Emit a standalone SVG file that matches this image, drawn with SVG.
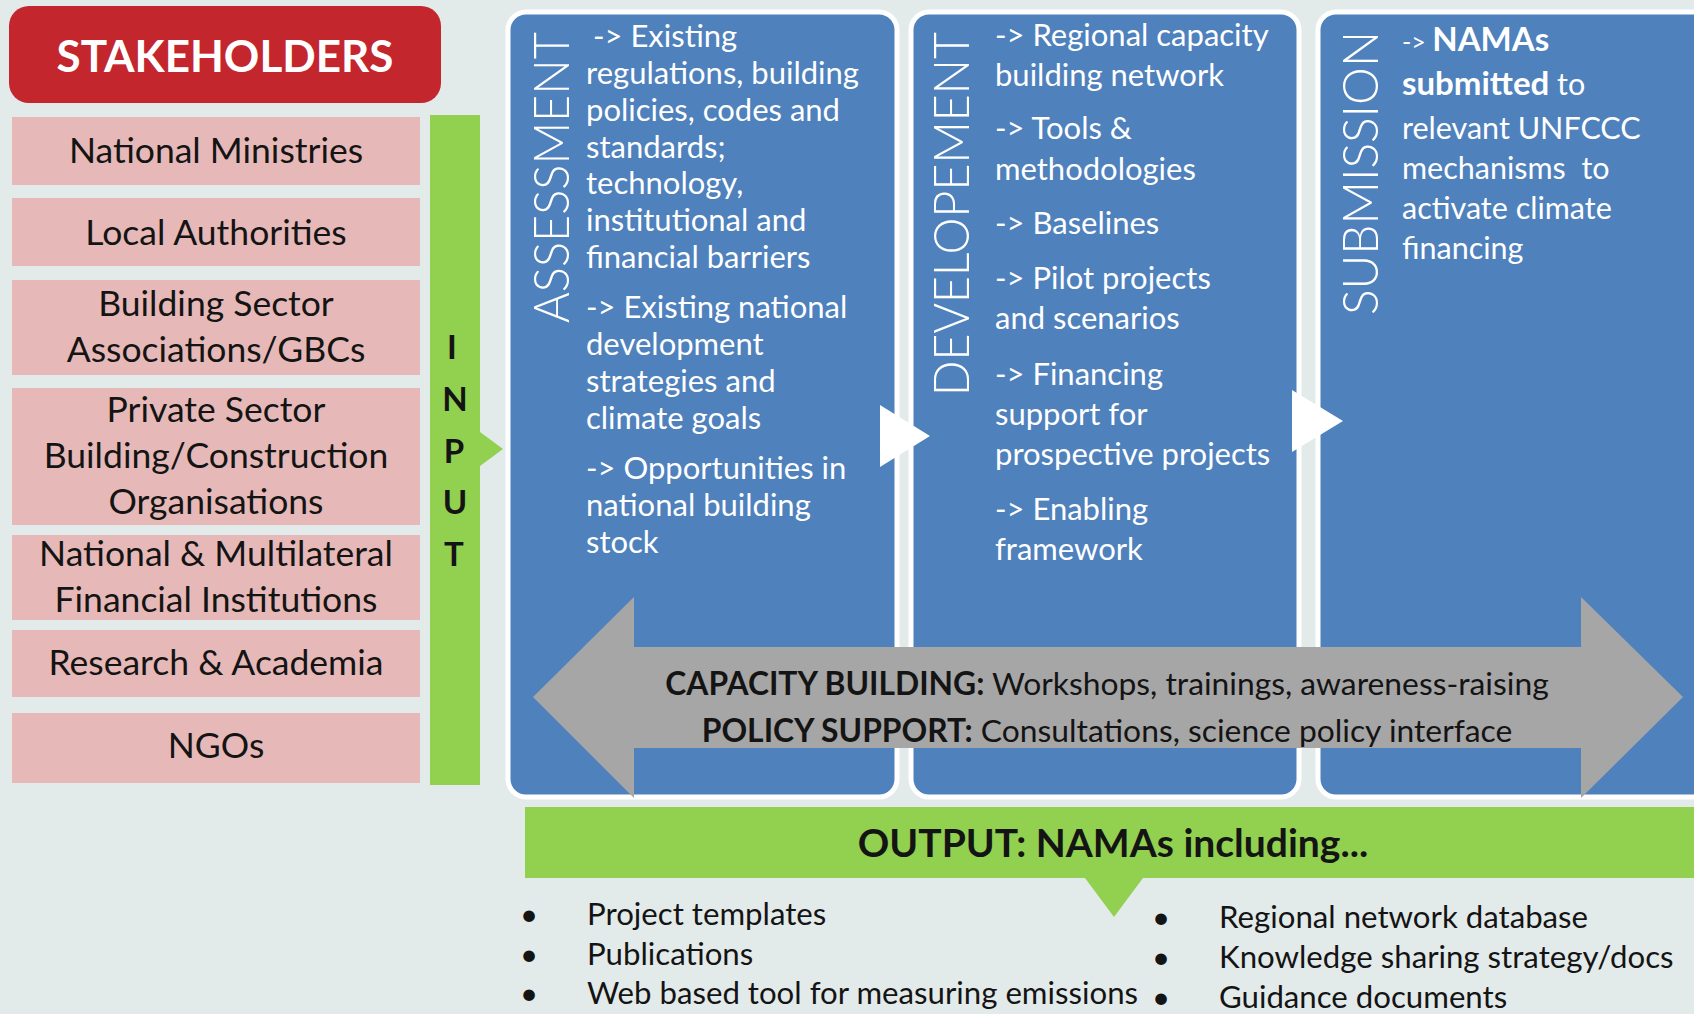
<svg xmlns="http://www.w3.org/2000/svg" width="1694" height="1014" viewBox="0 0 1694 1014">
  <style>
    text { font-family: Lato, "Open Sans", "Liberation Sans", sans-serif; }
    .stk { fill: #e6b9b8; }
    .stk-t { font-size: 35.5px; fill: #141414; text-anchor: middle; }
    .panel { fill: #4f81bd; stroke: #ffffff; stroke-width: 5; }
    .ptx { font-size: 31px; fill: #ffffff; }
    .vlab { font-size: 50px; font-weight: 300; fill: #ffffff; }
    .green { fill: #92d050; }
    .inp { font-size: 33px; font-weight: 700; fill: #141414; text-anchor: middle; }
    .cap { font-size: 31.8px; fill: #141414; text-anchor: middle; }
    .bul { font-size: 31.2px; fill: #141414; }
    .b { font-weight: 700; }
  </style>

  <!-- page background -->
  <rect x="0" y="0" width="1694" height="1014" fill="#e3eaea"/>

  <!-- stakeholder column -->
  <g id="stakeholders-header">
    <rect x="9" y="6" width="432" height="97" rx="20" fill="#c3262d"/>
    <text x="225" y="72" font-size="44" font-weight="700" fill="#ffffff" text-anchor="middle">STAKEHOLDERS</text>
  </g>
  <g id="national-ministries">
    <rect class="stk" x="12" y="117" width="408" height="68"/>
    <text class="stk-t" x="216" y="163">National Ministries</text>
  </g>
  <g id="local-authorities">
    <rect class="stk" x="12" y="198" width="408" height="68"/>
    <text class="stk-t" x="216" y="245">Local Authorities</text>
  </g>
  <g id="building-sector">
    <rect class="stk" x="12" y="280" width="408" height="95"/>
    <text class="stk-t" x="216" y="316">Building Sector</text>
    <text class="stk-t" x="216" y="362">Associations/GBCs</text>
  </g>
  <g id="private-sector">
    <rect class="stk" x="12" y="388" width="408" height="137"/>
    <text class="stk-t" x="216" y="422">Private Sector</text>
    <text class="stk-t" x="216" y="468">Building/Construction</text>
    <text class="stk-t" x="216" y="514">Organisations</text>
  </g>
  <g id="financial-institutions">
    <rect class="stk" x="12" y="535" width="408" height="85"/>
    <text class="stk-t" x="216" y="566">National &amp; Multilateral</text>
    <text class="stk-t" x="216" y="612">Financial Institutions</text>
  </g>
  <g id="research-academia">
    <rect class="stk" x="12" y="630" width="408" height="67"/>
    <text class="stk-t" x="216" y="675">Research &amp; Academia</text>
  </g>
  <g id="ngos">
    <rect class="stk" x="12" y="713" width="408" height="70"/>
    <text class="stk-t" x="216" y="758">NGOs</text>
  </g>

  <!-- input bar with its chevron -->
  <g id="input">
    <path class="green" d="M430,115 H480 V432 L503,449 L480,466 V785 H430 Z"/>
    <text class="inp" x="452" y="359">I</text>
    <text class="inp" x="455" y="411">N</text>
    <text class="inp" x="454" y="463">P</text>
    <text class="inp" x="455" y="514">U</text>
    <text class="inp" x="454" y="566">T</text>
  </g>

  <!-- process panels -->
  <g id="assessment">
    <rect class="panel" x="508" y="12" width="389" height="785" rx="18"/>
    <text class="vlab" transform="translate(569,323) rotate(-90)" textLength="291" lengthAdjust="spacingAndGlyphs">ASSESSMENT</text>
    <g class="ptx">
      <text x="593" y="47">-&gt; Existing</text>
      <text x="586" y="84">regulations, building</text>
      <text x="586" y="121">policies, codes and</text>
      <text x="586" y="158">standards;</text>
      <text x="586" y="194">technology,</text>
      <text x="586" y="231">institutional and</text>
      <text x="586" y="268">financial barriers</text>
      <text x="586" y="318">-&gt; Existing national</text>
      <text x="586" y="355">development</text>
      <text x="586" y="392">strategies and</text>
      <text x="586" y="429">climate goals</text>
      <text x="586" y="479">-&gt; Opportunities in</text>
      <text x="586" y="516">national building</text>
      <text x="586" y="553">stock</text>
    </g>
  </g>
  <g id="developement">
    <rect class="panel" x="911" y="12" width="388" height="785" rx="18"/>
    <text class="vlab" transform="translate(969,396) rotate(-90)" textLength="364" lengthAdjust="spacingAndGlyphs">DEVELOPEMENT</text>
    <g class="ptx">
      <text x="995" y="46">-&gt; Regional capacity</text>
      <text x="995" y="86">building network</text>
      <text x="995" y="139">-&gt; Tools &amp;</text>
      <text x="995" y="180">methodologies</text>
      <text x="995" y="234">-&gt; Baselines</text>
      <text x="995" y="289">-&gt; Pilot projects</text>
      <text x="995" y="329">and scenarios</text>
      <text x="995" y="385">-&gt; Financing</text>
      <text x="995" y="425">support for</text>
      <text x="995" y="465">prospective projects</text>
      <text x="995" y="520">-&gt; Enabling</text>
      <text x="995" y="560">framework</text>
    </g>
  </g>
  <g id="submission">
    <rect class="panel" x="1318" y="12" width="420" height="785" rx="18"/>
    <text class="vlab" transform="translate(1378,315) rotate(-90)" textLength="284" lengthAdjust="spacingAndGlyphs">SUBMISSION</text>
    <g class="ptx" font-size="30.5">
      <text x="1402" y="51" font-size="30.5"><tspan font-size="25">-&gt; </tspan><tspan class="b" font-size="33">NAMAs</tspan></text>
      <text x="1402" y="95" font-size="30.5"><tspan class="b" font-size="33">submitted</tspan> to</text>
      <text x="1402" y="139" font-size="30.5">relevant UNFCCC</text>
      <text x="1402" y="179" font-size="30.5" xml:space="preserve">mechanisms  to</text>
      <text x="1402" y="219" font-size="30.5">activate climate</text>
      <text x="1402" y="259" font-size="30.5">financing</text>
    </g>
  </g>

  <!-- flow arrows between panels -->
  <g id="connectors">
    <polygon points="880,405 930,436 880,467" fill="#ffffff"/>
    <polygon points="1292,390 1343,421 1292,452" fill="#ffffff"/>
  </g>

  <!-- capacity building / policy support band -->
  <g id="capacity-support">
    <polygon points="533,697 634,597 634,647 1581,647 1581,597 1683,697 1581,798 1581,748 634,748 634,798" fill="#a6a6a6"/>
    <text class="cap" x="1107" y="695"><tspan class="b">CAPACITY BUILDING:</tspan> Workshops, trainings, awareness-raising</text>
    <text class="cap" x="1107" y="742"><tspan class="b">POLICY SUPPORT:</tspan> Consultations, science policy interface</text>
  </g>

  <!-- output bar and deliverables -->
  <g id="output">
    <path class="green" d="M525,807 H1694 V878 H1143 L1114,917 L1085,878 H525 Z"/>
    <text x="1113" y="857" font-size="39" font-weight="700" fill="#141414" text-anchor="middle">OUTPUT: NAMAs including...</text>
  </g>
  <g id="deliverables-left">
    <text class="bul" x="520" y="925">•</text>
    <text class="bul" x="587" y="925">Project templates</text>
    <text class="bul" x="520" y="965">•</text>
    <text class="bul" x="587" y="965">Publications</text>
    <text class="bul" x="520" y="1004">•</text>
    <text class="bul" x="587" y="1004">Web based tool for measuring emissions</text>
  </g>
  <g id="deliverables-right">
    <text class="bul" x="1152" y="928">•</text>
    <text class="bul" x="1219" y="928">Regional network database</text>
    <text class="bul" x="1152" y="968">•</text>
    <text class="bul" x="1219" y="968">Knowledge sharing strategy/docs</text>
    <text class="bul" x="1152" y="1008">•</text>
    <text class="bul" x="1219" y="1008">Guidance documents</text>
  </g>
</svg>
